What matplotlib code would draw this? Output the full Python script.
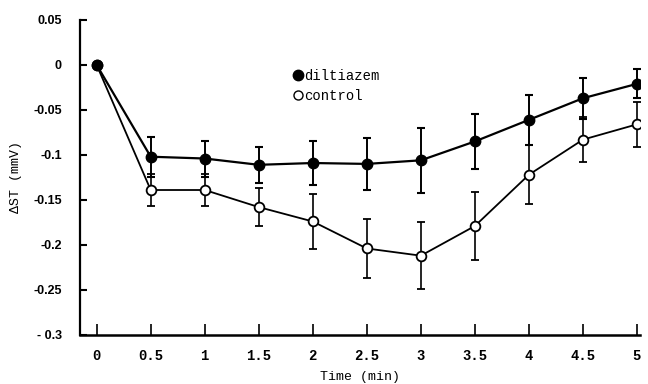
import matplotlib
matplotlib.use("Agg")
import matplotlib.pyplot as plt
from matplotlib.lines import Line2D

# time points (min)
time = [0, 0.5, 1, 1.5, 2, 2.5, 3, 3.5, 4, 4.5, 5]

# diltiazem group: mean and SE of delta ST (mV)
dil_mean = [0, -0.102, -0.104, -0.111, -0.109, -0.110, -0.106, -0.085, -0.061, -0.037, -0.021]
dil_err = [0, 0.022, 0.020, 0.020, 0.024, 0.029, 0.036, 0.031, 0.028, 0.023, 0.016]

# control group
ctl_mean = [0, -0.139, -0.139, -0.158, -0.174, -0.204, -0.212, -0.179, -0.122, -0.083, -0.066]
ctl_err = [0, 0.018, 0.018, 0.021, 0.031, 0.033, 0.037, 0.038, 0.033, 0.025, 0.025]

yticks = [0.05, 0, -0.05, -0.1, -0.15, -0.2, -0.25, -0.3]
ytick_labels = ["0.05", "0", "-0.05", "-0.1", "-0.15", "-0.2", "-0.25", "- 0.3"]
xtick_labels = ["0", "0.5", "1", "1.5", "2", "2.5", "3", "3.5", "4", "4.5", "5"]

fig = plt.figure(figsize=(6.48, 3.84), dpi=100)
ax = fig.add_axes([0.123, 0.128, 0.865, 0.82])

ax.errorbar(time, ctl_mean, yerr=ctl_err, color="black", lw=1.3, elinewidth=1.2,
            capsize=3, capthick=1.5, marker="o", ms=7, mfc="white", mec="black",
            mew=1.3, zorder=3)
ax.errorbar(time, dil_mean, yerr=dil_err, color="black", lw=1.6, elinewidth=1.4,
            capsize=3, capthick=1.5, marker="o", ms=7.5, mfc="black", mec="black",
            zorder=4)

ax.set_xlim(-0.157, 5.03)
ax.set_ylim(-0.3, 0.05)
ax.set_xticks(time)
ax.set_xticklabels(xtick_labels, family="Liberation Mono", fontweight="bold", fontsize=10)
ax.set_yticks(yticks)
ax.set_yticklabels(ytick_labels, family="Liberation Sans", fontweight="bold", fontsize=9)

for side in ["top", "right"]:
    ax.spines[side].set_visible(False)
ax.spines["left"].set_linewidth(1.6)
ax.spines["bottom"].set_linewidth(1.8)
ax.tick_params(axis="x", direction="in", length=8, width=1.2, pad=10)
ax.tick_params(axis="y", direction="in", length=5, width=1.5, pad=13)

ax.set_xlabel("Time (min)", family="Liberation Mono", fontsize=9.5, labelpad=6)
ax.set_ylabel("\u0394ST (mmV)", family="Liberation Mono", fontsize=9.5, labelpad=8)

handles = [
    Line2D([], [], ls="none", marker="o", ms=7.5, mfc="black", mec="black"),
    Line2D([], [], ls="none", marker="o", ms=6.5, mfc="white", mec="black", mew=1.0),
]
ax.legend(handles, ["diltiazem", "control"], loc="upper left",
          bbox_to_anchor=(0.36, 0.885), frameon=False, handlelength=0.6,
          handletextpad=0.15, labelspacing=0.45,
          prop={"family": "Liberation Mono", "size": 10})

fig.savefig("out.png", dpi=100)
